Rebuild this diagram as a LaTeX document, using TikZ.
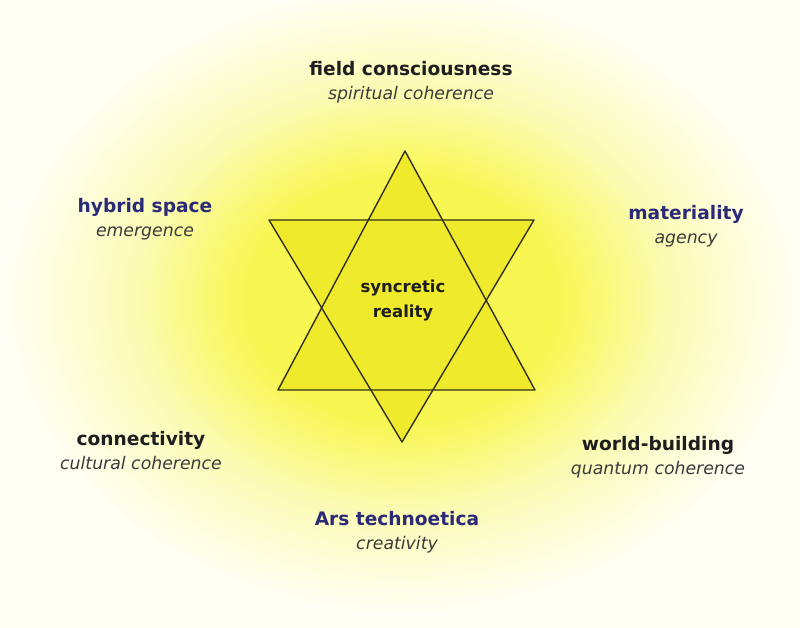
\documentclass[tikz,border=0pt]{standalone}
\usepackage{fontspec}
\setmainfont{DejaVu Sans}
\usepackage{tikz}
\usetikzlibrary{positioning}

\definecolor{staryellow}{HTML}{EFEB2C}
\definecolor{starline}{HTML}{303018}
\definecolor{labelblue}{HTML}{2B2A78}
\definecolor{labeldark}{HTML}{1E1E1E}
\definecolor{subgray}{HTML}{3A3A3A}
\definecolor{glowin}{HTML}{F8F650}
\definecolor{glowhot}{HTML}{F9F86A}
\definecolor{glowmid}{HTML}{FAFA98}
\definecolor{glowsoft}{HTML}{FBFBB2}
\definecolor{glowpale}{HTML}{FDFDD0}
\definecolor{glowout}{HTML}{FEFEEC}
\definecolor{glowedge}{HTML}{FFFFF6}
\pgfdeclareradialshading{glow}{\pgfpoint{0bp}{0bp}}{color(0bp)=(glowin); color(19bp)=(glowin); color(23bp)=(glowhot); color(29.5bp)=(glowmid); color(33bp)=(glowsoft); color(40bp)=(glowpale); color(47.5bp)=(glowout); color(50bp)=(glowedge)}

\newcommand{\pointlabel}[3]{{\color{#1}\fontsize{18.6}{24}\selectfont\bfseries #2}\\{\color{subgray}\fontsize{17.3}{24}\selectfont\itshape #3}}

\begin{document}
\begin{tikzpicture}[
  x=1pt, y=-1pt,
  every node/.style={inner sep=0pt, align=center, font=\fontsize{17.3}{24}\selectfont},
  starfill/.style={fill=staryellow},
  staredge/.style={draw=starline, line width=1.4pt, line join=round}
]
\useasboundingbox (0,0) rectangle (800,628);
\fill[glowedge] (0,0) rectangle (800,628);
\begin{scope}[shift={(402,300)}, xscale=7.97, yscale=6.3]
  \node[transform shape] (glowbox) at (0,0) {\pgfuseshading{glow}};
\end{scope}

% star corners
\coordinate (uptop) at (405,151);
\coordinate (upleft) at (278,390);
\coordinate (upright) at (535,390);
\coordinate (dnleft) at (269,220);
\coordinate (dnright) at (534,220);
\coordinate (dnbot) at (402,442);

\fill[starfill] (uptop) -- (upleft) -- (upright) -- cycle;
\fill[starfill] (dnleft) -- (dnright) -- (dnbot) -- cycle;
\draw[staredge] (uptop) -- (upleft) -- (upright) -- cycle;
\draw[staredge] (dnleft) -- (dnright) -- (dnbot) -- cycle;

\node[text=labeldark, font=\fontsize{16.5}{25}\selectfont\bfseries] (core) at (403,301) {syncretic\\reality};

% labels round the star
\node (field) at (411,82) {\pointlabel{labeldark}{field consciousness}{spiritual coherence}};
\node (hybrid) at (145,219) {\pointlabel{labelblue}{hybrid space}{emergence}};
\node (matter) at (686,226) {\pointlabel{labelblue}{materiality}{agency}};
\node (connect) at (141,451) {\pointlabel{labeldark}{connectivity}{cultural coherence}};
\node (world) at (658,457) {\pointlabel{labeldark}{world-building}{quantum coherence}};
\node (ars) at (397,532) {\pointlabel{labelblue}{Ars technoetica}{creativity}};
\end{tikzpicture}
\end{document}
